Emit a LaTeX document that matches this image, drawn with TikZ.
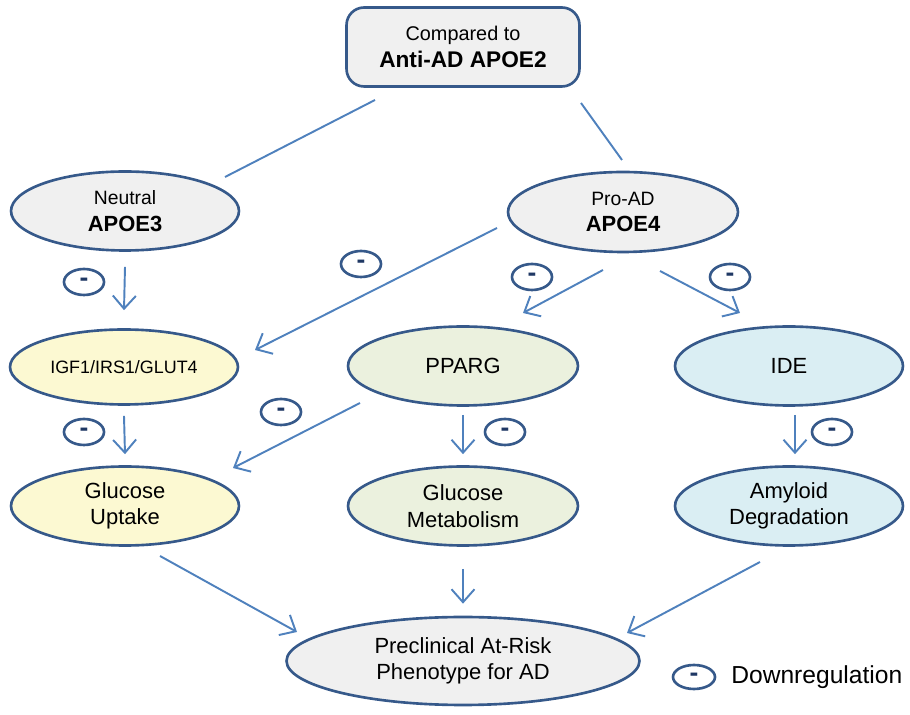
\documentclass[tikz,border=0pt]{standalone}
\usepackage{fontspec}
\setmainfont{Liberation Sans}
\usetikzlibrary{shapes.geometric,arrows.meta}
\definecolor{rim}{HTML}{36598A}
\definecolor{link}{HTML}{4F81BD}
\definecolor{navy}{HTML}{1F3864}
\definecolor{greyfill}{HTML}{F0F0F0}
\definecolor{yelfill}{HTML}{FCF9D2}
\definecolor{grnfill}{HTML}{EBF1DE}
\definecolor{blufill}{HTML}{DAEEF3}
\begin{document}
\begin{tikzpicture}[x=0.02cm,y=-0.02cm,
    oval/.style={ellipse,draw=rim,line width=1.5pt,inner sep=0pt,
      minimum width=4.56cm,minimum height=1.58cm,align=center,
      font=\fontsize{12.5}{15}\selectfont},
    minus/.style={ellipse,draw=rim,line width=1.5pt,inner sep=0pt,
      minimum width=0.8cm,minimum height=0.52cm,text=navy,
      font=\bfseries\fontsize{15}{15}\selectfont},
    arr/.style={link,line width=1.1pt,-{Straight Barb[length=2.6mm,width=4.6mm]}},
    plain/.style={link,line width=1.1pt}]
  \useasboundingbox (0,0) rectangle (910,715);

  % top box
  \node[draw=rim,line width=1.5pt,fill=greyfill,rounded corners=10pt,
    minimum width=4.66cm,minimum height=1.58cm,align=center]
    (cmp) at (463,47) {\fontsize{11.3}{14.2}\selectfont Compared to\\[3pt]
    \fontsize{12.9}{14.2}\selectfont\bfseries Anti-AD APOE2};

  % APOE alleles
  \node[oval,fill=greyfill] (apoe3) at (125,211)
    {\fontsize{11}{15}\selectfont Neutral\\ \fontsize{12.5}{15}\selectfont\bfseries APOE3};
  \node[oval,fill=greyfill,minimum width=4.6cm,minimum height=1.6cm] (apoe4) at (623,212)
    {\fontsize{11}{15}\selectfont Pro-AD\\ \fontsize{12.5}{15}\selectfont\bfseries APOE4};

  % middle row
  \node[oval,fill=yelfill,minimum height=1.5cm] (igf) at (124,367)
    {\fontsize{10.2}{12}\selectfont IGF1/IRS1/GLUT4};
  \node[oval,fill=grnfill,minimum width=4.6cm] (pparg) at (463,366) {PPARG};
  \node[oval,fill=blufill] (ide) at (789,366) {IDE};

  % effects
  \node[oval,fill=yelfill] (uptake) at (125,506) {Glucose\\Uptake};
  \node[oval,fill=grnfill,minimum width=4.6cm] (metab) at (463,506) {Glucose\\Metabolism};
  \node[oval,fill=blufill] (amyloid) at (789,506) {Amyloid\\Degradation};

  \node[oval,fill=greyfill,minimum width=7.06cm,minimum height=1.76cm]
    (pheno) at (463,661) {Preclinical At-Risk\\Phenotype for AD};

  % lines from the top box
  \draw[plain] ([shift={(-88,53)}]cmp.center) -- ([shift={(100,-34)}]apoe3.center);
  \draw[plain] ([shift={(118,56)}]cmp.center) -- ([shift={(-1,-52)}]apoe4.center);

  % arrows
  \draw[arr] ([shift={(0,15)}]apoe3.south) -- ([shift={(0,-18)}]igf.north);
  \draw[arr] ([shift={(-126,16)}]apoe4.center) -- ([shift={(131,-17)}]igf.center);
  \draw[arr] ([shift={(-20,58)}]apoe4.center) -- ([shift={(60,-53)}]pparg.center);
  \draw[arr] ([shift={(37,59)}]apoe4.center) -- ([shift={(-49,-53)}]ide.center);
  \draw[arr] ([shift={(0,10)}]igf.south) -- ([shift={(0,-11)}]uptake.north);
  \draw[arr] ([shift={(-103,37)}]pparg.center) -- ([shift={(108,-38)}]uptake.center);
  \draw[arr] ([shift={(0,8)}]pparg.south) -- ([shift={(0,-11)}]metab.north);
  \draw[arr] ([shift={(6,8)}]ide.south) -- ([shift={(6,-11)}]amyloid.north);
  \draw[arr] ([shift={(35,50)}]uptake.center) -- ([shift={(-166,-29)}]pheno.center);
  \draw[arr] ([shift={(0,22)}]metab.south) -- ([shift={(0,-12)}]pheno.north);
  \draw[arr] ([shift={(-29,56)}]amyloid.center) -- ([shift={(164,-28)}]pheno.center);

  % downregulation marks
  \node[minus] (m1) at (84,282) {-};
  \node[minus] (m2) at (361,264) {-};
  \node[minus] (m3) at (532,277) {-};
  \node[minus] (m4) at (730,277) {-};
  \node[minus] (m5) at (84,432) {-};
  \node[minus] (m6) at (281,412) {-};
  \node[minus] (m7) at (505,432) {-};
  \node[minus] (m8) at (832,432) {-};

  % legend
  \node[minus,minimum width=0.84cm,minimum height=0.48cm] (mkey) at (694,677) {-};
  \node[anchor=west,inner sep=0pt,font=\fontsize{14}{14}\selectfont]
    (key) at (731,677) {Downregulation};
\end{tikzpicture}
\end{document}
